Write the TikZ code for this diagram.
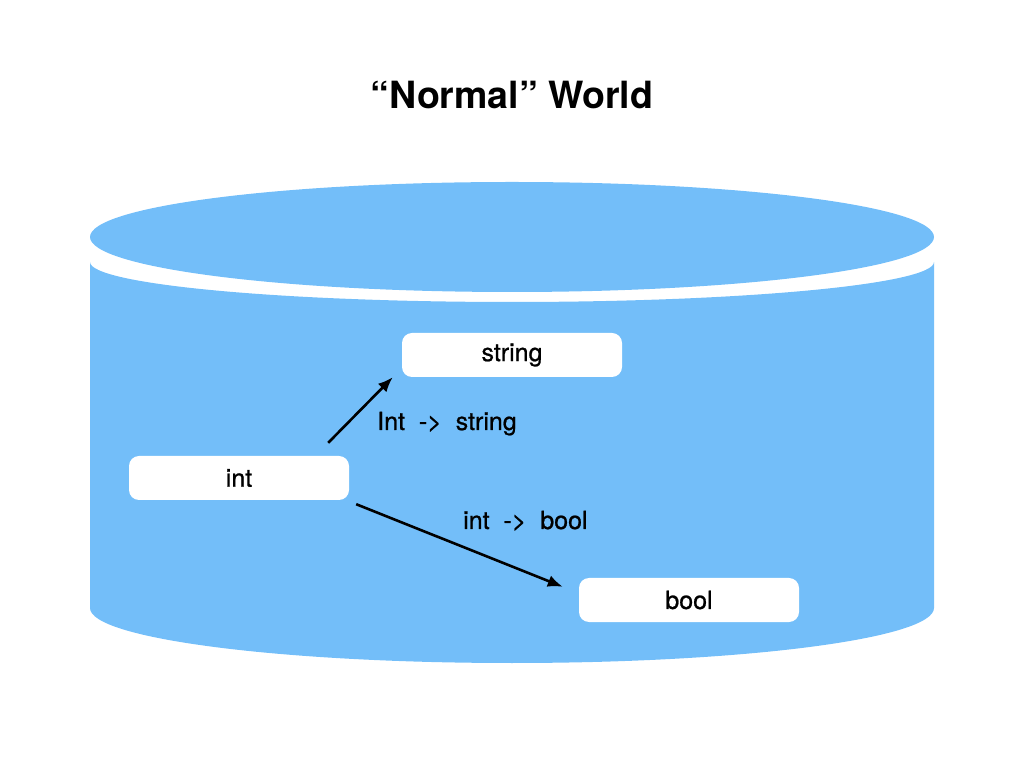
\documentclass[tikz,border=0pt]{standalone}
\usepackage{fontspec}
\setmainfont{TeX Gyre Heros}
\newfontfamily\medfont[FakeBold=0.8]{TeX Gyre Heros}
\usetikzlibrary{arrows.meta}

\definecolor{worldblue}{RGB}{115,190,249}

\tikzset{
  typebox/.style={fill=white, rounded corners=10pt, minimum width=220pt,
    minimum height=44pt, inner sep=0pt, font=\medfont\fontsize{25}{30}\selectfont},
  maplabel/.style={anchor=base west, inner sep=0pt, font=\medfont\fontsize{25}{30}\selectfont},
  maparrow/.style={-{Latex[length=15pt,width=12pt]}, line width=2.6pt}
}

\begin{document}
\begin{tikzpicture}[x=1pt,y=1pt]

\useasboundingbox (0,0) rectangle (1024,768);

% title
\node[anchor=base, font=\fontsize{37.5}{44}\selectfont\bfseries] (title) at (512,659) {“Normal” World};

% the cylinder
\fill[worldblue] (90,506) -- (90,160)
   arc[start angle=180, end angle=360, x radius=422pt, y radius=55pt]
   -- (934,506)
   arc[start angle=0, end angle=-180, x radius=422pt, y radius=40pt] -- cycle;
\fill[worldblue] (512,531) ellipse [x radius=422pt, y radius=55pt];

% types
\node[typebox] (string) at (512,413) {string};
\node[typebox] (int) at (239,290) {int};
\node[typebox] (bool) at (689,168) {bool};

% maps
\draw[maparrow] ([shift={(-21pt,13pt)}]int.north east) -- ([shift={(-9pt,0pt)}]string.south west);
\draw[maparrow] ([shift={(7pt,-4pt)}]int.south east) -- ([shift={(-16pt,-9pt)}]bool.north west);

\node[maplabel] (tostring) at (377,338) {Int\ \ ->\ \ string};
\node[maplabel] (tobool) at (463,239) {int\ \ ->\ \ bool};

\end{tikzpicture}
\end{document}
